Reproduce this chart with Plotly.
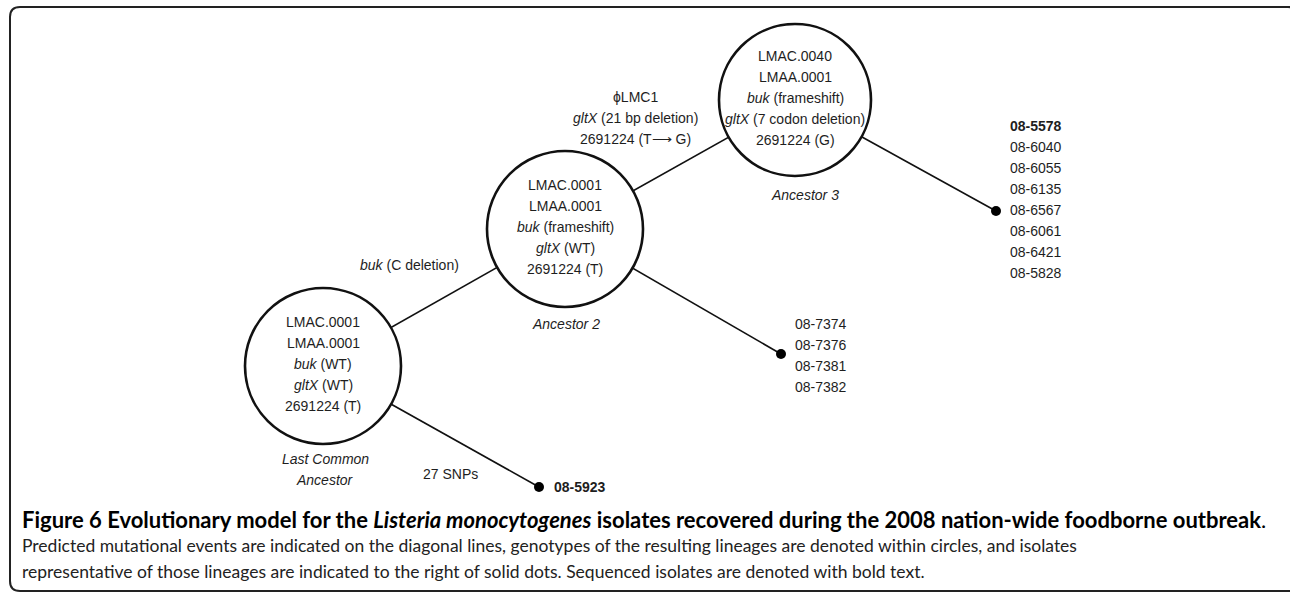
import plotly.graph_objects as go

# ---------------- data ----------------
node_labels = ["Last Common<br>Ancestor", "Ancestor 2", "Ancestor 3"]
lmac_type = ["LMAC.0001", "LMAC.0001", "LMAC.0040"]
lmaa_type = ["LMAA.0001", "LMAA.0001", "LMAA.0001"]
buk_state = ["WT", "frameshift", "frameshift"]
gltx_state = ["WT", "WT", "7 codon deletion"]
snp_2691224 = ["T", "T", "G"]

edge_lca_a2 = ["<i>buk</i> (C deletion)"]
edge_a2_a3 = ["\u03d5LMC1", "<i>gltX</i> (21 bp deletion)", "2691224 (T\u27f6 G)"]
edge_lca_iso = ["27 SNPs"]

isolates_lca = ["08-5923"]
isolates_a2 = ["08-7374", "08-7376", "08-7381", "08-7382"]
isolates_a3 = ["08-5578", "08-6040", "08-6055", "08-6135", "08-6567",
               "08-6061", "08-6421", "08-5828"]
sequenced = ["08-5923", "08-5578"]

caption_title = ("<b>Figure 6 Evolutionary model for the <i>Listeria monocytogenes</i> "
                 "isolates recovered during the 2008 nation-wide foodborne outbreak</b>.")
caption_body = [
    "Predicted mutational events are indicated on the diagonal lines, genotypes of the "
    "resulting lineages are denoted within circles, and isolates",
    "representative of those lineages are indicated to the right of solid dots. "
    "Sequenced isolates are denoted with bold text.",
]

# ---------------- layout (positions in page pixels) ----------------
W, H = 1290, 593
node_cx = [323, 565, 795]
node_cy = [366, 229, 100]
node_r = [78, 78, 76]
dot_x = [539, 781, 996]
dot_y = [487, 354, 211]
iso_lists = [isolates_lca, isolates_a2, isolates_a3]
iso_x = [552, 793, 1008]
iso_y0 = [487, 324, 126]
LINE = 21
TXT = "#1e1e1e"
FONT = "Liberation Sans, Arial, sans-serif"

fig = go.Figure()

# connecting lines (centre to centre / centre to dot)
segs = [((node_cx[0], node_cy[0]), (node_cx[1], node_cy[1])),
        ((node_cx[1], node_cy[1]), (node_cx[2], node_cy[2])),
        ((node_cx[0], node_cy[0]), (dot_x[0], dot_y[0])),
        ((node_cx[1], node_cy[1]), (dot_x[1], dot_y[1])),
        ((node_cx[2], node_cy[2]), (dot_x[2], dot_y[2]))]
for (a, b) in segs:
    fig.add_trace(go.Scatter(x=[a[0], b[0]], y=[a[1], b[1]], mode="lines",
                             line=dict(color="#111", width=1.6),
                             hoverinfo="skip", showlegend=False))

fig.add_trace(go.Scatter(x=dot_x, y=dot_y, mode="markers",
                         marker=dict(color="#000", size=10),
                         hoverinfo="skip", showlegend=False))

shapes = []
for cx, cy, r in zip(node_cx, node_cy, node_r):
    shapes.append(dict(type="circle", xref="x", yref="y",
                       x0=cx - r, x1=cx + r, y0=cy - r, y1=cy + r,
                       line=dict(color="#111", width=2.6), fillcolor="white",
                       layer="above"))

# rounded frame
x0b, x1b, y0b, y1b, rr = 10, 1298, 7, 591, 10
frame = (f"M {x0b+rr},{y0b} L {x1b-rr},{y0b} Q {x1b},{y0b} {x1b},{y0b+rr} "
         f"L {x1b},{y1b-rr} Q {x1b},{y1b} {x1b-rr},{y1b} L {x0b+rr},{y1b} "
         f"Q {x0b},{y1b} {x0b},{y1b-rr} L {x0b},{y0b+rr} Q {x0b},{y0b} {x0b+rr},{y0b} Z")
shapes.append(dict(type="path", xref="x", yref="y", path=frame,
                   line=dict(color="#222", width=2), fillcolor="rgba(0,0,0,0)"))

ann = []


def txt(x, y, s, size=14, xanchor="center", color=TXT, family=FONT):
    ann.append(dict(x=x, y=y, xref="x", yref="y", text=s, showarrow=False,
                    xanchor=xanchor, yanchor="middle",
                    font=dict(family=family, size=size, color=color)))


# genotypes inside circles
for i in range(3):
    lines = [lmac_type[i], lmaa_type[i], f"<i>buk</i> ({buk_state[i]})",
             f"<i>gltX</i> ({gltx_state[i]})", f"2691224 ({snp_2691224[i]})"]
    for k, s in enumerate(lines):
        txt(node_cx[i], node_cy[i] - 2 + (k - 2) * LINE, s)

# node names
name_pos = [(325, 459), (566, 324), (805, 195)]
for (x, y), s in zip(name_pos, node_labels):
    for k, part in enumerate(s.split("<br>")):
        txt(x, y + k * LINE, f"<i>{part}</i>")

# edge labels
txt(409, 265, edge_lca_a2[0])
for k, s in enumerate(edge_a2_a3):
    txt(635, 97 + k * LINE, s)
txt(450, 474, edge_lca_iso[0])

# isolates
for lst, x, y0 in zip(iso_lists, iso_x, iso_y0):
    for k, s in enumerate(lst):
        label = f"<b>{s}</b>" if s in sequenced else s
        txt(x, y0 + k * LINE, label, xanchor="left")

# caption
CAP = "Lato, Open Sans, sans-serif"
txt(20, 519, caption_title, size=22, xanchor="left", color="#000", family=CAP)
for k, s in enumerate(caption_body):
    txt(20, 545 + k * 26, s, size=17.5, xanchor="left", color="#222", family=CAP)

fig.update_layout(
    width=W, height=H, margin=dict(l=0, r=0, t=0, b=0),
    paper_bgcolor="white", plot_bgcolor="white",
    xaxis=dict(range=[0, W], visible=False, fixedrange=True),
    yaxis=dict(range=[H, 0], visible=False, fixedrange=True),
    shapes=shapes, annotations=ann, showlegend=False,
)
fig.write_html("out.html", config={"displayModeBar": False, "staticPlot": True},
               post_script="document.body.style.margin='0';document.body.style.overflow='hidden';")
